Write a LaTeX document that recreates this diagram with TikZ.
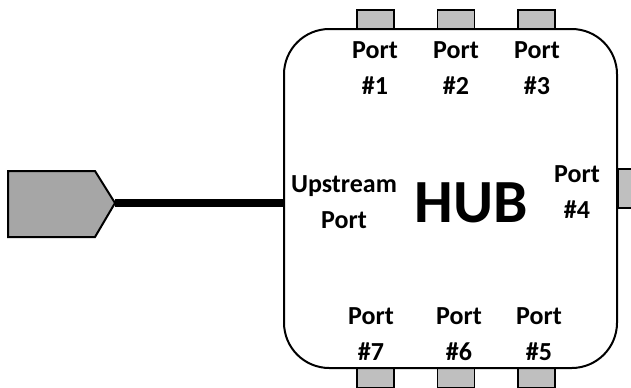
\documentclass[tikz,border=0pt]{standalone}
\usepackage{fontspec}
\setmainfont{Carlito}
\begin{document}
\begin{tikzpicture}[x=0.75pt,y=-0.75pt,
  portbox/.style={draw=black,fill=portgray,line width=1.2pt,minimum width=27.5pt,minimum height=14.5pt,inner sep=0pt,outer sep=0pt},
  lbl/.style={font=\bfseries\fontsize{19.5}{27}\selectfont,align=center,inner sep=0pt},
  hubbox/.style={draw=black,line width=1.5pt,rounded corners=34pt,minimum width=249.75pt,minimum height=254.25pt,inner sep=0pt,outer sep=0pt}]
\definecolor{portgray}{HTML}{BFBFBF}
\definecolor{plug}{HTML}{A6A6A6}
\useasboundingbox (0,0) rectangle (631,387);
\clip (0,0) rectangle (631,387);
% ports (behind the hub outline)
\node[portbox] (p1) at (375.5,19.5) {};
\node[portbox] (p2) at (456,19.5) {};
\node[portbox] (p3) at (536.5,19.5) {};
\node[portbox] (p7) at (375.5,378) {};
\node[portbox] (p6) at (456,378) {};
\node[portbox] (p5) at (536.5,378) {};
\node[portbox,minimum width=14.5pt,minimum height=29pt] (p4) at (627.5,188.5) {};
% hub
\node[hubbox,fill=white] (hub) at (450.5,198.5) {};
% plug
\draw[line width=1.5pt,fill=plug,line join=miter] (8,171) -- (95,171) -- (115,203) coordinate (tip) -- (95,237) -- (8,237) -- cycle;
\draw[line width=6pt] (tip) -- (hub.west |- tip);
% labels
\node[lbl] (l1) at (375,68) {Port\\\#1};
\node[lbl] (l2) at (456,68) {Port\\\#2};
\node[lbl] (l3) at (537,68) {Port\\\#3};
\node[lbl] (l4) at (577,192) {Port\\\#4};
\node[lbl] (l7) at (371,334) {Port\\\#7};
\node[lbl] (l6) at (459,334) {Port\\\#6};
\node[lbl] (l5) at (539,334) {Port\\\#5};
\node[lbl] (lu) at (344,202) {Upstream\\Port};
\node[font=\bfseries\fontsize{46}{50}\selectfont,inner sep=0pt] (hubtext) at (471,203) {HUB};
\end{tikzpicture}
\end{document}
